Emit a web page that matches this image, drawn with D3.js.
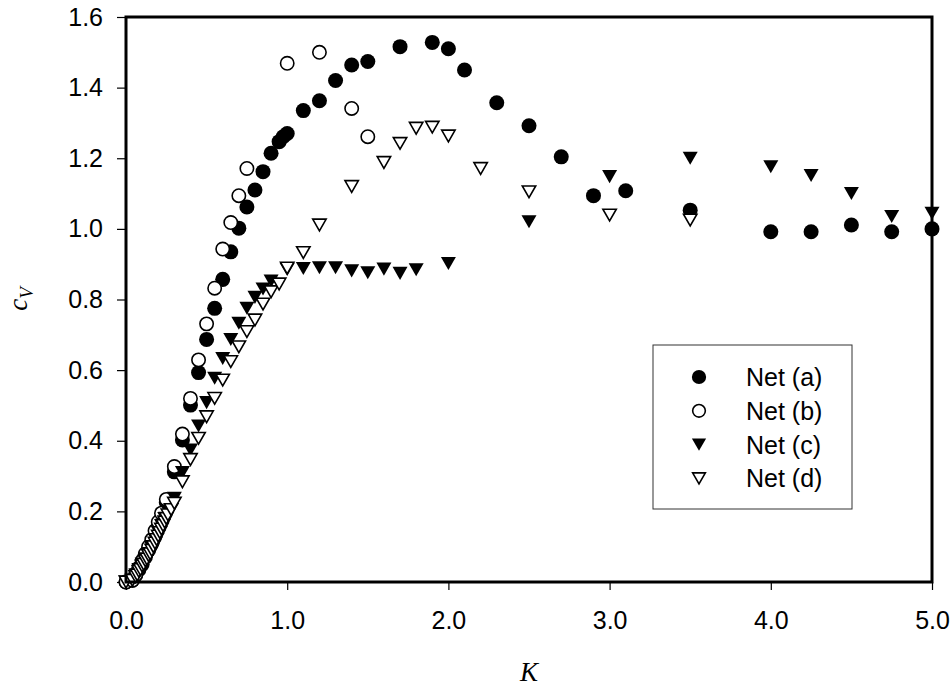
<!DOCTYPE html>
<html>
<head>
<meta charset="utf-8">
<script src="https://cdn.jsdelivr.net/npm/d3@7"></script>
<style>
  body { margin: 0; background: #fff; }
  text { font-family: "Liberation Sans", Arial, sans-serif; fill: #000; }
</style>
</head>
<body>
<svg id="chart" width="950" height="688"></svg>
<script>
// Net (a) - filled circles
var kA = [0, 0.04, 0.06, 0.08, 0.10, 0.12, 0.14, 0.16, 0.18, 0.20, 0.22, 0.25, 0.30, 0.35, 0.40, 0.45, 0.50, 0.55, 0.60, 0.65, 0.70, 0.75, 0.80, 0.85, 0.90, 0.95, 0.975, 1.0, 1.1, 1.2, 1.3, 1.4, 1.5, 1.7, 1.9, 2.0, 2.1, 2.3, 2.5, 2.7, 2.9, 3.1, 3.5, 4.0, 4.25, 4.5, 4.75, 5.0];
var cA = [0, 0.005, 0.02, 0.035, 0.05, 0.07, 0.09, 0.11, 0.13, 0.155, 0.18, 0.225, 0.312, 0.402, 0.501, 0.593, 0.687, 0.775, 0.857, 0.935, 1.002, 1.062, 1.11, 1.162, 1.214, 1.247, 1.261, 1.27, 1.335, 1.363, 1.42, 1.464, 1.474, 1.516, 1.528, 1.51, 1.45, 1.357, 1.292, 1.204, 1.094, 1.108, 1.053, 0.992, 0.992, 1.011, 0.992, 1.0];

// Net (b) - open circles
var kB = [0, 0.04, 0.06, 0.08, 0.10, 0.12, 0.14, 0.16, 0.18, 0.20, 0.22, 0.25, 0.30, 0.35, 0.40, 0.45, 0.50, 0.55, 0.60, 0.65, 0.70, 0.75, 1.0, 1.2, 1.4, 1.5];
var cB = [0, 0.005, 0.02, 0.04, 0.06, 0.08, 0.10, 0.12, 0.145, 0.17, 0.195, 0.234, 0.327, 0.419, 0.52, 0.629, 0.731, 0.832, 0.943, 1.018, 1.094, 1.171, 1.469, 1.50, 1.341, 1.261];

// Net (c) - filled down triangles
var kC = [0, 0.04, 0.06, 0.08, 0.10, 0.12, 0.14, 0.16, 0.18, 0.20, 0.22, 0.24, 0.26, 0.30, 0.35, 0.40, 0.45, 0.50, 0.55, 0.60, 0.65, 0.70, 0.75, 0.80, 0.85, 0.90, 1.0, 1.1, 1.2, 1.3, 1.4, 1.5, 1.6, 1.7, 1.8, 2.0, 2.5, 3.0, 3.5, 4.0, 4.25, 4.5, 4.75, 5.0];
var cC = [0, 0.005, 0.02, 0.035, 0.05, 0.065, 0.08, 0.10, 0.12, 0.14, 0.16, 0.18, 0.20, 0.237, 0.31, 0.374, 0.442, 0.508, 0.577, 0.633, 0.687, 0.733, 0.775, 0.806, 0.83, 0.852, 0.885, 0.888, 0.89, 0.89, 0.881, 0.876, 0.886, 0.874, 0.884, 0.902, 1.02, 1.148, 1.20, 1.176, 1.151, 1.10, 1.035, 1.044];

// Net (d) - open down triangles
var kD = [0, 0.04, 0.06, 0.07, 0.08, 0.09, 0.10, 0.11, 0.12, 0.13, 0.14, 0.15, 0.16, 0.17, 0.18, 0.19, 0.20, 0.21, 0.22, 0.23, 0.24, 0.25, 0.26, 0.28, 0.30, 0.35, 0.40, 0.45, 0.50, 0.55, 0.60, 0.65, 0.70, 0.75, 0.80, 0.85, 0.90, 0.95, 1.0, 1.1, 1.2, 1.4, 1.6, 1.7, 1.8, 1.9, 2.0, 2.2, 2.5, 3.0, 3.5];
var cD = [0, 0.005, 0.015, 0.02, 0.03, 0.035, 0.045, 0.05, 0.06, 0.065, 0.075, 0.08, 0.09, 0.10, 0.11, 0.12, 0.13, 0.14, 0.15, 0.16, 0.17, 0.18, 0.19, 0.205, 0.223, 0.284, 0.347, 0.407, 0.468, 0.52, 0.572, 0.624, 0.666, 0.709, 0.742, 0.787, 0.822, 0.844, 0.889, 0.933, 1.011, 1.12, 1.188, 1.242, 1.285, 1.288, 1.263, 1.171, 1.105, 1.039, 1.025];

var xTicks = [0, 1, 2, 3, 4, 5];
var yTicks = [0, 0.2, 0.4, 0.6, 0.8, 1.0, 1.2, 1.4, 1.6];
var legendLabels = ['Net (a)', 'Net (b)', 'Net (c)', 'Net (d)'];

var margin = { top: 17, right: 18, bottom: 106, left: 126 };
var width = 950 - margin.left - margin.right;
var height = 688 - margin.top - margin.bottom;

var svg = d3.select('#chart');
var g = svg.append('g').attr('transform', 'translate(' + margin.left + ',' + margin.top + ')');

var x = d3.scaleLinear().domain([0, 5]).range([0, width]);
var y = d3.scaleLinear().domain([0, 1.6]).range([height, 0]);

// down triangle centred on its bounding box
var triDown = {
  draw: function (ctx, size) {
    var w = Math.sqrt(size), h = w * 0.87;
    ctx.moveTo(-w / 2, -h / 2);
    ctx.lineTo(w / 2, -h / 2);
    ctx.lineTo(0, h / 2);
    ctx.closePath();
  }
};

var series = [
  { k: kA, c: cA, type: d3.symbolCircle, size: 177, fill: '#000', stroke: 'none' },
  { k: kB, c: cB, type: d3.symbolCircle, size: 140, fill: '#fff', stroke: '#000' },
  { k: kC, c: cC, type: triDown, size: 225, fill: '#000', stroke: 'none' },
  { k: kD, c: cD, type: triDown, size: 180, fill: '#fff', stroke: '#000' }
];

// axes
var yAxis = g.append('g')
  .call(d3.axisLeft(y).tickValues(yTicks).tickFormat(d3.format('.1f')).tickSize(9).tickPadding(14));
var xAxis = g.append('g').attr('transform', 'translate(0,' + height + ')')
  .call(d3.axisBottom(x).tickValues(xTicks).tickFormat(d3.format('.1f')).tickSize(8).tickPadding(21));

[yAxis, xAxis].forEach(function (ax) {
  ax.select('.domain').remove();
  ax.selectAll('.tick line').attr('stroke', '#000').attr('stroke-width', 1.2);
  ax.selectAll('.tick text').style('font-size', '25px').attr('fill', '#000');
});

// data points
series.forEach(function (s) {
  var pts = s.k.map(function (k, i) { return [k, s.c[i]]; });
  g.append('g').selectAll('path').data(pts).enter().append('path')
    .attr('transform', function (d) { return 'translate(' + x(d[0]) + ',' + y(d[1]) + ')'; })
    .attr('d', d3.symbol().type(s.type).size(s.size))
    .attr('fill', s.fill)
    .attr('stroke', s.stroke)
    .attr('stroke-width', 1.6);
});

// frame
g.append('rect').attr('x', 0).attr('y', 0).attr('width', width).attr('height', height)
  .attr('fill', 'none').attr('stroke', '#000').attr('stroke-width', 3);

// legend
var lg = svg.append('g').attr('transform', 'translate(653,345)');
lg.append('rect').attr('width', 199).attr('height', 164)
  .attr('fill', '#fff').attr('stroke', '#333').attr('stroke-width', 1);
legendLabels.forEach(function (lab, i) {
  var s = series[i];
  var yy = 32 + i * 33.8;
  lg.append('path').attr('transform', 'translate(46,' + yy + ')')
    .attr('d', d3.symbol().type(s.type).size(s.size * 0.9))
    .attr('fill', s.fill).attr('stroke', s.stroke).attr('stroke-width', 1.6);
  lg.append('text').attr('x', 93).attr('y', yy + 9).style('font-size', '25px').text(lab);
});

// axis titles
svg.append('text').attr('x', margin.left + width / 2).attr('y', 681)
  .attr('text-anchor', 'middle')
  .style('font-family', '"Liberation Serif", "Times New Roman", serif')
  .style('font-style', 'italic').style('font-size', '27px').text('K');

var yt = svg.append('text').attr('transform', 'translate(27,299) rotate(-90)')
  .attr('text-anchor', 'middle')
  .style('font-family', '"Liberation Serif", "Times New Roman", serif')
  .style('font-style', 'italic').style('font-size', '27px');
yt.append('tspan').text('c');
yt.append('tspan').attr('dy', 6).style('font-size', '19px').text('V');
</script>
</body>
</html>
